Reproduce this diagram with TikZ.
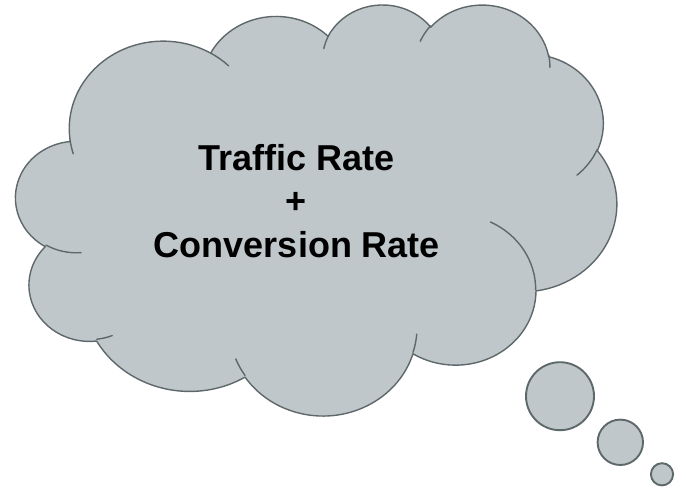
\documentclass[tikz,border=0pt]{standalone}
\usepackage{fontspec}
\setmainfont{Liberation Sans}
\definecolor{cloudgray}{RGB}{192,199,202}
\definecolor{cloudedge}{RGB}{94,104,106}
% OOXML arcTo (visual angles) -> TikZ parametric angles
\newcommand\mkarc[5]{%
  \pgfmathsetmacro\tmpS{#4}%
  \pgfmathsetmacro\tmpE{#4+#5}%
  \pgfmathsetmacro\tmpFS{mod(atan2(#2*sin(\tmpS),#3*cos(\tmpS))-\tmpS+540,360)-180}%
  \pgfmathsetmacro\tmpFE{mod(atan2(#2*sin(\tmpE),#3*cos(\tmpE))-\tmpE+540,360)-180}%
  \pgfmathsetmacro\tmpTS{\tmpS+\tmpFS}%
  \pgfmathsetmacro\tmpTE{\tmpE+\tmpFE}%
  \expandafter\xdef\csname arcS#1\endcsname{\tmpTS}%
  \expandafter\xdef\csname arcE#1\endcsname{\tmpTE}%
}
\tikzset{
  cloudshape/.style={fill=cloudgray, draw=cloudedge, line width=1.4pt, line join=round},
  cloudline/.style={draw=cloudedge, line width=1.4pt, line cap=round},
  bubble/.style={fill=cloudgray, draw=cloudedge, line width=1.9pt},
  txt/.style={inner sep=0pt, anchor=base, font=\bfseries\fontsize{36}{36}\selectfont, text=black}
}
\begin{document}
\begin{tikzpicture}[x=1pt,y=1pt]
\useasboundingbox (0,0) rectangle (686,-489);
\mkarc{A}{67.53}{91.90}{-190.487483}{123.780533}
\mkarc{B}{53.33}{72.67}{-144.10238}{89.94523}
\mkarc{C}{43.65}{59.45}{-145.80792}{99.72302}
\mkarc{D}{48.57}{65.95}{-130.98607}{117.24173}
\mkarc{E}{53.33}{72.73}{-78.70888}{109.02692}
\mkarc{F}{67.75}{92.20}{-46.26725}{130.269}
\mkarc{G}{57.85}{78.67}{0.62502}{114.03333}
\mkarc{H}{67.52}{92.15}{22.4516}{115.17255}
\mkarc{I}{77.20}{105.43}{66.24263}{75.71102}
\mkarc{J}{43.60}{59.18}{-274.94208}{146.73557}
\mkarc{K}{43.45}{59.45}{-246.8285}{152.51885}
\mkarc{iA}{43.45}{59.45}{86.742}{26.4295}
\mkarc{iB}{43.60}{59.18}{73.61047}{11.44747}
\mkarc{iC}{67.52}{92.15}{137.62415}{14.0811}
\mkarc{iD}{67.52}{92.15}{6.45327}{15.99835}
\mkarc{iE}{57.85}{78.67}{-70.29235}{70.91737}
\mkarc{iF}{53.33}{72.73}{30.31803}{27.7515}
\mkarc{iG}{48.57}{65.95}{-13.74433}{14.8589}
\mkarc{iH}{48.57}{65.95}{-149.18145}{18.19537}
\mkarc{iI}{43.65}{59.45}{-163.49427}{17.68635}
\mkarc{iJ}{67.53}{91.90}{-66.70695}{12.31935}
\mkarc{iK}{67.53}{91.90}{157.65435}{11.85817}
\begin{scope}[shift={(15.9,-3.65)}, xscale=1.39051, yscale=-0.95116]
\path[cloudshape] (39.00,143.70)
  arc[x radius=67.53, y radius=91.90, start angle=\arcSA, end angle=\arcEA]
  arc[x radius=53.33, y radius=72.67, start angle=\arcSB, end angle=\arcEB]
  arc[x radius=43.65, y radius=59.45, start angle=\arcSC, end angle=\arcEC]
  arc[x radius=48.57, y radius=65.95, start angle=\arcSD, end angle=\arcED]
  arc[x radius=53.33, y radius=72.73, start angle=\arcSE, end angle=\arcEE]
  arc[x radius=67.75, y radius=92.20, start angle=\arcSF, end angle=\arcEF]
  arc[x radius=57.85, y radius=78.67, start angle=\arcSG, end angle=\arcEG]
  arc[x radius=67.52, y radius=92.15, start angle=\arcSH, end angle=\arcEH]
  arc[x radius=77.20, y radius=105.43, start angle=\arcSI, end angle=\arcEI]
  arc[x radius=43.60, y radius=59.18, start angle=\arcSJ, end angle=\arcEJ]
  arc[x radius=43.45, y radius=59.45, start angle=\arcSK, end angle=\arcEK]
  -- cycle;
\path[cloudline] (46.93,261.77) arc[x radius=43.45, y radius=59.45, start angle=\arcSiA, end angle=\arcEiA];
\path[cloudline] (69.28,348.99) arc[x radius=43.60, y radius=59.18, start angle=\arcSiB, end angle=\arcEiB];
\path[cloudline] (164.78,390.90) arc[x radius=67.52, y radius=92.15, start angle=\arcSiC, end angle=\arcEiC];
\path[cloudline] (288.27,347.51) arc[x radius=67.52, y radius=92.15, start angle=\arcSiD, end angle=\arcEiD];
\path[cloudline] (341.29,229.54) arc[x radius=57.85, y radius=78.67, start angle=\arcSiE, end angle=\arcEiE];
\path[cloudline] (417.98,153.54) arc[x radius=53.33, y radius=72.73, start angle=\arcSiF, end angle=\arcEiF];
\path[cloudline] (383.24,54.26) arc[x radius=48.57, y radius=65.95, start angle=\arcSiG, end angle=\arcEiG];
\path[cloudline] (290.78,39.52) arc[x radius=48.57, y radius=65.95, start angle=\arcSiH, end angle=\arcEiH];
\path[cloudline] (221.41,47.20) arc[x radius=43.65, y radius=59.45, start angle=\arcSiI, end angle=\arcEiI];
\path[cloudline] (140.00,51.92) arc[x radius=67.53, y radius=91.90, start angle=\arcSiJ, end angle=\arcEiJ];
\path[cloudline] (41.27,157.89) arc[x radius=67.53, y radius=91.90, start angle=\arcSiK, end angle=\arcEiK];
\end{scope}
\draw[bubble] (560.0,-396.2) circle[radius=34];
\draw[bubble] (620.3,-442.3) circle[radius=22.7];
\draw[bubble] (662.0,-474.3) circle[radius=11.1];
\node[txt] (l1) at (296.3,-170.7) {Traffic Rate};
\node[txt] (l2) at (296.2,-214.0) {+};
\node[txt] (l3) at (297.0,-257.3) {Conversion Rate};
\end{tikzpicture}
\end{document}
